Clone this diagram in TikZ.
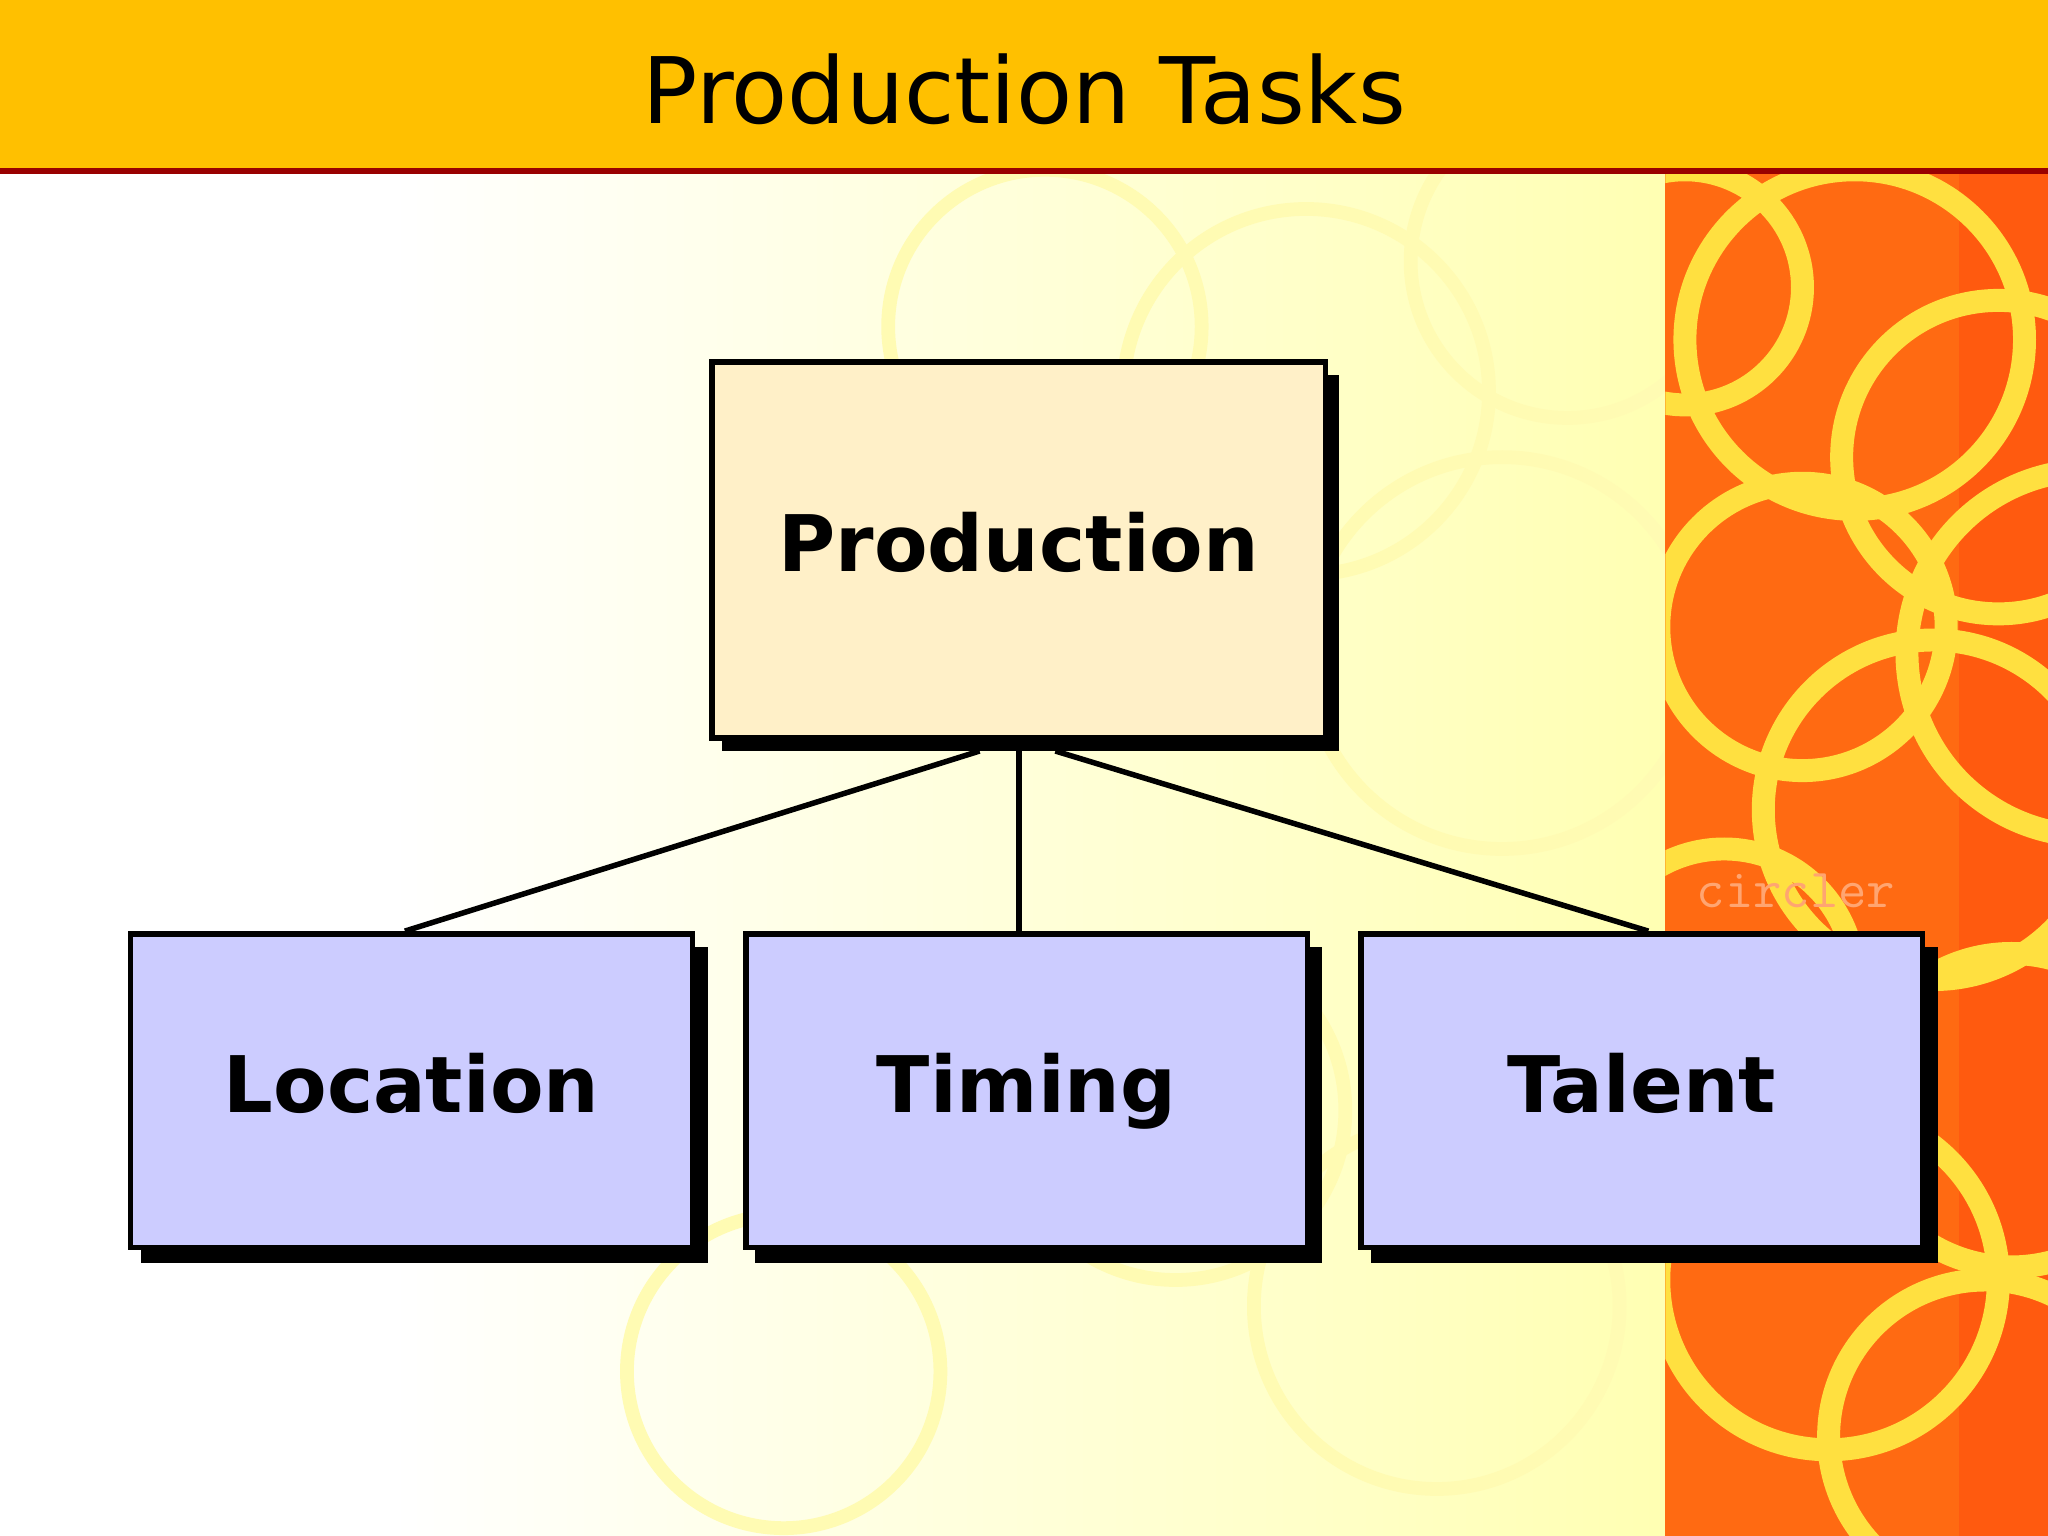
\documentclass[tikz,border=0pt]{standalone}
\usepackage{fontspec}
\setmainfont{DejaVu Sans}
\definecolor{hdr}{HTML}{FFC000}
\definecolor{topfill}{HTML}{FFF0C8}
\definecolor{botfill}{HTML}{CCCCFF}
\definecolor{orng}{HTML}{FF6A12}
\definecolor{ring}{HTML}{FFE040}
\tikzset{
 box/.style={draw=black, line width=1.2pt, minimum width=4.3cm, minimum height=2.4cm, font=\fontsize{17}{20}\selectfont\bfseries, inner sep=0pt, text height=0.45cm, text depth=0.12cm},
 shad/.style={fill=black},
 conn/.style={line width=1.2pt}
}
\begin{document}
\begin{tikzpicture}
\useasboundingbox (0,0) rectangle (15.68,-11.76);
% background
\fill[white] (0,0) rectangle (15.68,-11.76);
\shade[left color=white, right color=yellow!30] (3,-1.3) rectangle (12.75,-11.76);
\begin{scope}
\clip (3,-1.3) rectangle (12.75,-11.76);
\foreach \x/\y/\r in {8/-2.5/1.2, 10/-3/1.4, 11.5/-5/1.5, 9/-8.5/1.3, 11/-10/1.4, 6/-10.5/1.2, 12/-2/1.2}
  \draw[yellow!30, line width=3pt] (\x,\y) circle (\r);
\end{scope}
\fill[orng] (12.75,-1.3) rectangle (15.68,-11.76);
\fill[orng!85!red] (15.0,-1.3) rectangle (15.68,-11.76);
\begin{scope}
\clip (12.75,-1.3) rectangle (15.68,-11.76);
\foreach \x/\y/\r in {14.2/-2.6/1.3, 15.3/-3.5/1.2, 13.8/-4.8/1.1, 14.8/-6.2/1.3, 13.2/-7.5/1.0, 15.4/-8.5/1.2, 14.0/-9.8/1.3, 15.2/-11/1.2, 12.9/-2.2/0.9, 16/-5/1.4}
  \draw[ring, line width=5pt] (\x,\y) circle (\r);
\end{scope}
\node[text=orng!60!white, font=\ttfamily\fontsize{12}{12}\selectfont] (wm) at (13.75,-6.82) {circler};
% header
\fill[hdr] (0,0) rectangle (15.68,-1.3);
\draw[red!60!black, line width=1.2pt] (0,-1.31) -- (15.68,-1.31);
\node[font=\fontsize{20}{24}\selectfont] (title) at (7.84,-0.68) {Production Tasks};
% shadows
\fill[shad] (5.53,-2.87) rectangle (10.25,-5.75);
\fill[shad] (1.08,-7.25) rectangle (5.42,-9.67);
\fill[shad] (5.78,-7.25) rectangle (10.12,-9.67);
\fill[shad] (10.5,-7.25) rectangle (14.84,-9.67);
% connectors
\coordinate (c1) at (7.5,-5.75);
\coordinate (c2) at (7.8,-5.75);
\coordinate (c3) at (8.08,-5.75);
% boxes
\node[box, fill=topfill, minimum width=4.7cm, minimum height=2.88cm] (prod) at (7.8,-4.21) {Production};
\node[box, fill=botfill] (loc) at (3.15,-8.35) {Location};
\node[box, fill=botfill] (tim) at (7.86,-8.35) {Timing};
\node[box, fill=botfill] (tal) at (12.57,-8.35) {Talent};
\draw[conn] (c1) -- (loc.north -| 3.1,0);
\draw[conn] (c2) -- (tim.north -| 7.8,0);
\draw[conn] (c3) -- (tal.north -| 12.62,0);
\end{tikzpicture}
\end{document}
